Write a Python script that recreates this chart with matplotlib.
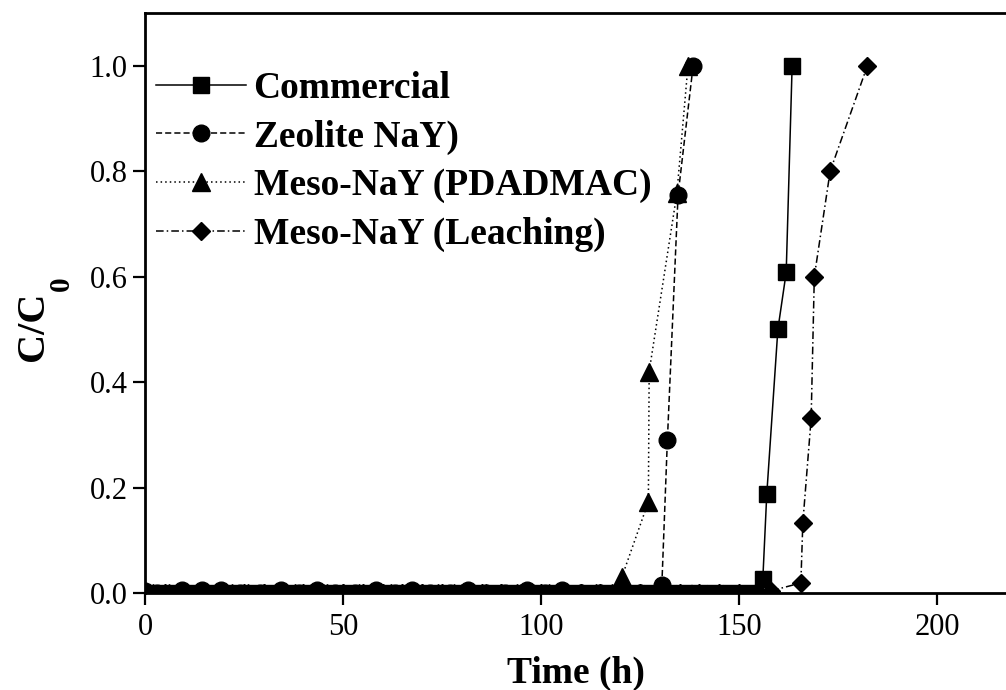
import matplotlib
matplotlib.use("Agg")
import matplotlib.pyplot as plt

plt.rcParams["font.family"] = ["Liberation Serif", "DejaVu Serif"]

# Breakthrough curves: time (h) and normalised outlet concentration C/C0
commercial_t = [0, 4, 8, 12, 16, 20, 24, 28, 32, 36, 40, 44, 48, 52, 56, 60, 64, 68,
                72, 76, 80, 84, 88, 92, 96, 100, 104, 108, 112, 116, 120, 124, 128,
                132, 136, 140, 144, 148, 152, 156.0, 157.0, 159.8, 161.9, 163.4]
commercial_c = [0, 0, 0, 0, 0, 0, 0, 0, 0, 0, 0, 0, 0, 0, 0, 0, 0, 0,
                0, 0, 0, 0, 0, 0, 0, 0, 0, 0, 0, 0, 0, 0, 0,
                0, 0, 0, 0, 0, 0, 0.027, 0.188, 0.50, 0.608, 1.0]

zeolite_t = [0, 3, 9.3, 14.4, 19.2, 24, 29, 34.3, 39, 43.4, 48, 53, 58.3, 63, 67.4,
             72, 77, 81.6, 86, 91, 96.5, 101, 105.3, 110, 115, 120, 125,
             130.5, 131.9, 134.6, 138.4]
zeolite_c = [0.004, 0, 0.006, 0.006, 0.006, 0, 0, 0.006, 0, 0.006, 0, 0, 0.006, 0, 0.006,
             0, 0, 0.006, 0, 0, 0.006, 0, 0.006, 0, 0, 0, 0,
             0.015, 0.29, 0.755, 1.0]

pdadmac_t = [0, 2, 6, 10, 14, 18, 22, 26, 30, 34, 38, 42, 46, 50, 54, 58, 62, 66,
             70, 74, 78, 82, 86, 90, 94, 98, 102, 106, 110, 114, 118,
             120.4, 127.1, 127.3, 134.3, 137.1]
pdadmac_c = [0, 0, 0, 0, 0, 0, 0, 0, 0, 0, 0, 0, 0, 0, 0, 0, 0, 0,
             0, 0, 0, 0, 0, 0, 0, 0, 0, 0, 0, 0, 0,
             0.03, 0.173, 0.42, 0.758, 1.0]

leaching_t = [0, 5, 10, 15, 20, 25, 30, 35, 40, 45, 50, 55, 60, 65, 70, 75, 80, 85,
              90, 95, 100, 105, 110, 115, 120, 125, 130, 135, 140, 145, 150, 155, 158,
              165.6, 166.1, 168.2, 169.0, 173.0, 182.4]
leaching_c = [0, 0, 0, 0, 0, 0, 0, 0, 0, 0, 0, 0, 0, 0, 0, 0, 0, 0,
              0, 0, 0, 0, 0, 0, 0, 0, 0, 0, 0, 0, 0, 0, 0.004,
              0.019, 0.133, 0.331, 0.60, 0.80, 1.0]

series_labels = ["Commercial", "Zeolite NaY)", "Meso-NaY (PDADMAC)", "Meso-NaY (Leaching)"]

x_ticks = [0, 50, 100, 150, 200]
y_ticks = [0.0, 0.2, 0.4, 0.6, 0.8, 1.0]

fig = plt.figure(figsize=(10.06, 6.90), dpi=100)
ax = fig.add_axes([145 / 1006, 97 / 690, 861 / 1006, 580 / 690])

common = dict(color="black", lw=1.1, mfc="black", mec="black", mew=1)
ax.plot(commercial_t, commercial_c, ls="-", marker="s", ms=11.5, label=series_labels[0], **common)
ax.plot(zeolite_t, zeolite_c, ls=(0, (4, 2)), marker="o", ms=12, label=series_labels[1], **common)
ax.plot(pdadmac_t, pdadmac_c, ls=(0, (1, 2)), marker="^", ms=13.5, label=series_labels[2], **common)
ax.plot(leaching_t, leaching_c, ls=(0, (5, 2, 1, 2)), marker="D", ms=9, label=series_labels[3], **common)

ax.set_xlim(0, 217.4)
ax.set_ylim(0, 1.1)
ax.set_xticks(x_ticks)
ax.set_yticks(y_ticks)
ax.set_yticklabels([f"{v:.1f}" for v in y_ticks])
ax.tick_params(direction="out", length=8.5, width=1.6, labelsize=22, pad=4)
ax.tick_params(axis="x", pad=6)

for side in ("left", "bottom", "top"):
    ax.spines[side].set_linewidth(2.0)
ax.spines["right"].set_visible(False)

ax.set_xlabel("Time (h)", fontsize=27, fontweight="bold", labelpad=10)

# y label: "C/C" with a dropped subscript "0"
ax.set_ylabel("C/C", fontsize=29, fontweight="bold")
ax.yaxis.set_label_coords(-0.108, 0.459)
fig.text(61 / 1006, 1 - 284 / 690, "0", rotation=90, fontsize=21, fontweight="bold",
         ha="center", va="center")

leg = ax.legend(loc="upper left", bbox_to_anchor=(156 / 1006, 1 - 71 / 690),
                bbox_transform=fig.transFigure, frameon=False, numpoints=1,
                handlelength=2.4, handletextpad=0.2, labelspacing=0.36,
                borderpad=0, borderaxespad=0, prop={"size": 27, "weight": "bold"})

fig.savefig("out.png", dpi=100)
